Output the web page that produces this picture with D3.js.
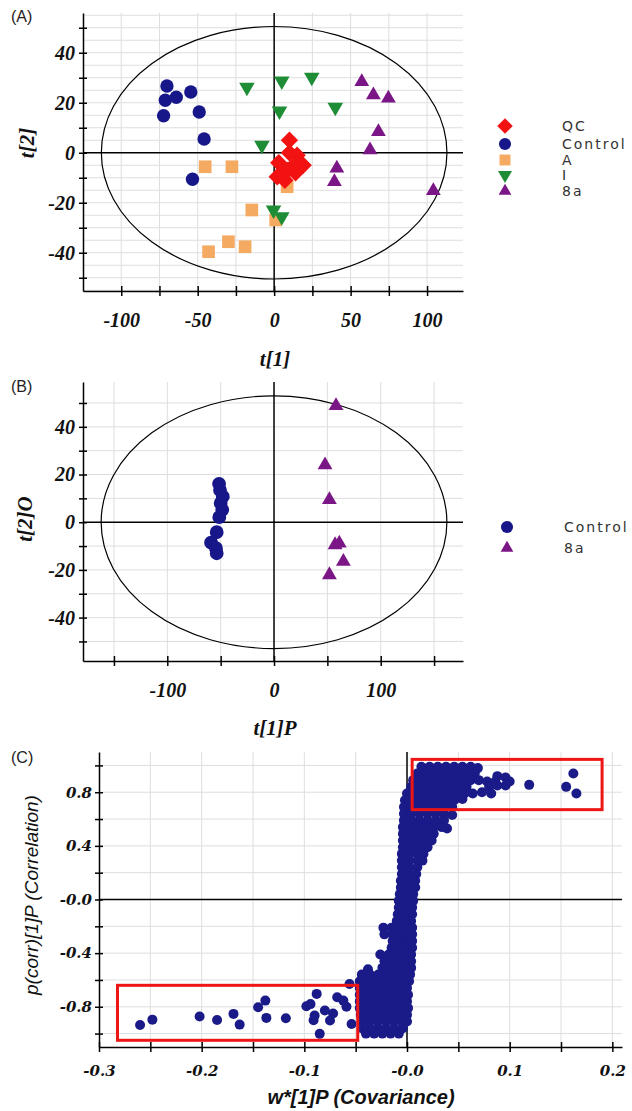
<!DOCTYPE html>
<html>
<head>
<meta charset="utf-8">
<script src="https://cdn.jsdelivr.net/npm/d3@7.9.0/dist/d3.min.js"></script>
<style>
  body { margin: 0; background: #fff; }
  svg { display: block; }
</style>
</head>
<body>
<svg id="chart" width="632" height="1111"></svg>
<script>
// (A) PCA scores, [t1, t2]
const qcScores = [[10,5],[3,-4],[10,0],[15,-1],[19,-5],[13,-5],[9,-7],[2,-9.6],[5,-8],[7,-11],[14,-8]];
const controlScores = [[-70.1,26.7],[-71.2,21],[-64,22.2],[-54.5,24.3],[-72.3,14.8],[-49,16.3],[-45.8,5.5],[-53.4,-10.6]];
const aScores = [[-45.1,-5.6],[-27.6,-5.6],[8.5,-13.6],[-14.6,-22.9],[-42.9,-39.6],[-29.9,-35.6],[-19,-37.6],[1,-26.9]];
const iScores = [[-17.8,26.2],[5,28.7],[24.6,30.2],[3.5,16.7],[-8,3],[40,18.2],[-0.4,-22.9],[5,-25.6]];
const s8aScores = [[57.3,28.4],[64.9,23.1],[74.7,21.8],[68.2,8.4],[62.7,1.1],[41,-6.2],[39.4,-11.6],[104.1,-15.2]];

// (B) OPLS-DA scores, [t1P, t2O]
const controlOpls = [[-51.5,16.1],[-50.6,13.5],[-48,10.7],[-50,8],[-48.5,5.2],[-51.3,2.1],[-53.7,-4.2],[-59,-8.6],[-54.4,-10.9],[-53.7,-13]];
const s8aOpls = [[58.1,48.8],[47.8,24],[51.9,9.4],[57.2,-9.5],[61.2,-8.8],[65,-16.5],[51.9,-22.1]];

// (C) S-plot, [w*[1]P, p(corr)[1]P]
const loadingsTop = [
  [0.014,0.99],[0.022,0.99],[0.030,0.99],[0.038,0.99],[0.046,0.99],[0.054,0.99],[0.062,0.99],[0.069,0.98],
  [0.010,0.94],[0.018,0.94],[0.026,0.94],[0.034,0.94],[0.042,0.94],[0.050,0.94],[0.058,0.94],[0.066,0.94],[0.088,0.92],[0.096,0.91],
  [0.006,0.89],[0.014,0.89],[0.022,0.89],[0.030,0.89],[0.038,0.89],[0.046,0.89],[0.054,0.89],[0.062,0.89],[0.070,0.89],[0.078,0.88],[0.086,0.88],[0.100,0.88],
  [0.004,0.84],[0.010,0.84],[0.018,0.84],[0.026,0.84],[0.034,0.84],[0.042,0.84],[0.050,0.84],[0.058,0.84],[0.080,0.84],[0.088,0.85],[0.096,0.85],
  [0.000,0.79],[0.008,0.79],[0.016,0.79],[0.024,0.79],[0.032,0.79],[0.040,0.79],[0.048,0.79],[0.056,0.79],[0.064,0.79],[0.073,0.80],[0.082,0.79],
  [-0.002,0.74],[0.006,0.74],[0.014,0.74],[0.022,0.74],[0.030,0.74],[0.038,0.74],[0.046,0.74],[0.054,0.75],
  [0.119,0.855],[0.162,0.94],[0.155,0.84],[0.165,0.79]
];
const loadingsColumn = [
  [-0.003,0.69],[0.004,0.69],[0.012,0.69],[0.020,0.69],[0.028,0.69],[0.036,0.69],[0.044,0.69],
  [-0.003,0.64],[0.004,0.64],[0.012,0.64],[0.020,0.64],[0.028,0.64],[0.036,0.64],[0.044,0.63],
  [-0.003,0.59],[0.004,0.59],[0.012,0.59],[0.020,0.59],[0.028,0.59],[0.036,0.59],
  [-0.004,0.54],[0.002,0.54],[0.010,0.54],[0.018,0.54],[0.026,0.54],[0.034,0.54],[0.039,0.53],
  [-0.004,0.49],[0.004,0.49],[0.012,0.49],[0.020,0.49],[0.026,0.49],
  [-0.004,0.44],[0.002,0.44],[0.010,0.44],[0.018,0.44],[0.024,0.44],
  [-0.004,0.39],[0.004,0.39],[0.012,0.39],[0.020,0.39],
  [-0.005,0.34],[0.002,0.34],[0.010,0.34],[0.016,0.34],
  [-0.005,0.29],[0.002,0.29],[0.010,0.29],[0.015,0.29],
  [-0.005,0.24],[0.002,0.24],[0.010,0.24],
  [-0.005,0.19],[0.002,0.19],[0.009,0.19],
  [-0.006,0.14],[0.001,0.14],[0.008,0.14],
  [-0.006,0.09],[0.001,0.09],[0.008,0.09],
  [-0.007,0.04],[0.000,0.04],[0.006,0.04],
  [-0.008,-0.01],[-0.001,-0.01],[0.006,-0.01],
  [-0.008,-0.06],[-0.001,-0.06],[0.005,-0.06],
  [-0.009,-0.11],[-0.002,-0.11],[0.005,-0.11],
  [-0.010,-0.16],[-0.003,-0.16],[0.004,-0.16],
  [-0.023,-0.21],[-0.015,-0.21],[-0.008,-0.21],[-0.001,-0.21],[0.005,-0.21],
  [-0.022,-0.26],[-0.014,-0.26],[-0.007,-0.26],[0.000,-0.26],[0.005,-0.26],
  [-0.014,-0.31],[-0.007,-0.31],[0.000,-0.31],[0.005,-0.31],
  [-0.015,-0.36],[-0.008,-0.36],[-0.001,-0.36],[0.005,-0.36],
  [-0.026,-0.41],[-0.018,-0.41],[-0.010,-0.41],[-0.003,-0.41],[0.004,-0.41],
  [-0.022,-0.46],[-0.014,-0.46],[-0.007,-0.46],[0.000,-0.46],[0.004,-0.46],
  [-0.038,-0.52],[-0.024,-0.51],[-0.016,-0.51],[-0.008,-0.51],[-0.001,-0.51],[0.004,-0.51],
  [-0.044,-0.56],[-0.036,-0.56],[-0.028,-0.56],[-0.020,-0.56],[-0.012,-0.56],[-0.004,-0.56],[0.003,-0.56],
  [-0.046,-0.61],[-0.038,-0.61],[-0.030,-0.61],[-0.022,-0.61],[-0.014,-0.61],[-0.006,-0.61],[0.002,-0.61],
  [-0.046,-0.66],[-0.040,-0.66],[-0.032,-0.66],[-0.024,-0.66],[-0.016,-0.66],[-0.008,-0.66],[0.000,-0.66],
  [-0.046,-0.71],[-0.038,-0.71],[-0.030,-0.71],[-0.022,-0.71],[-0.014,-0.71],[-0.006,-0.71],[0.001,-0.71],
  [-0.046,-0.76],[-0.040,-0.76],[-0.032,-0.76],[-0.024,-0.76],[-0.016,-0.76],[-0.008,-0.76],[0.000,-0.76],
  [-0.046,-0.81],[-0.038,-0.81],[-0.030,-0.81],[-0.022,-0.81],[-0.014,-0.81],[-0.006,-0.81],[0.001,-0.81],
  [-0.045,-0.86],[-0.040,-0.86],[-0.032,-0.86],[-0.024,-0.86],[-0.016,-0.86],[-0.008,-0.86],[0.000,-0.86],
  [-0.044,-0.91],[-0.037,-0.91],[-0.029,-0.91],[-0.021,-0.91],[-0.013,-0.91],[-0.005,-0.91],[0.000,-0.91],
  [-0.044,-0.96],[-0.036,-0.96],[-0.028,-0.96],[-0.020,-0.96],[-0.012,-0.96],[-0.004,-0.96],
  [-0.040,-1.00],[-0.032,-1.00],[-0.024,-1.00],[-0.016,-1.00],[-0.008,-1.00]
];
const loadingsLow = [
  [-0.260,-0.936],[-0.248,-0.896],[-0.202,-0.873],[-0.185,-0.898],[-0.169,-0.853],[-0.163,-0.933],
  [-0.145,-0.804],[-0.138,-0.754],[-0.137,-0.883],[-0.118,-0.886],[-0.098,-0.796],[-0.094,-0.78],
  [-0.088,-0.704],[-0.091,-0.90],[-0.090,-0.866],[-0.085,-1.002],[-0.080,-0.828],[-0.075,-0.903],
  [-0.072,-0.85],[-0.068,-0.729],[-0.062,-0.754],[-0.059,-0.80],[-0.056,-0.63],[-0.054,-0.928]
];
// highlighted regions [xmin, xmax, ymin, ymax]
const boxes = [[0.005, 0.19, 0.67, 1.045], [-0.282, -0.048, -1.05, -0.64]];

// ticks
const aXTicks = [-100,-75,-50,-25,0,25,50,75,100];
const aXLabels = [-100,-50,0,50,100];
const aYTicks = [-50,-40,-30,-20,-10,0,10,20,30,40,50];
const aYLabels = [-40,-20,0,20,40];
const aYGrid = [-55,-50,-45,-40,-35,-30,-25,-20,-15,-10,-5,5,10,15,20,25,30,35,40,45,50,55];
const bXTicks = [-150,-100,-50,0,50,100,150];
const bXLabels = [-100,0,100];
const bYTicks = [-50,-40,-30,-20,-10,0,10,20,30,40,50];
const bYLabels = [-40,-20,0,20,40];
const cXTicks = [-0.3,-0.25,-0.2,-0.15,-0.1,-0.05,0,0.05,0.1,0.15,0.2];
const cXLabels = [-0.3,-0.2,-0.1,0,0.1,0.2];
const cYTicks = [-1.0,-0.8,-0.6,-0.4,-0.2,0,0.2,0.4,0.6,0.8,1.0];
const cYLabels = [-0.8,-0.4,0,0.4,0.8];

const colors = { QC: '#f21212', Control: '#17178a', A: '#f5aa62', I: '#1f8c36', '8a': '#7a1686' };

const svg = d3.select('#chart');
const gridColor = '#dedede';
const tickFont = 'bold italic 20px "Liberation Serif", serif';
const scoreTitleFont = 'bold italic 21px "Liberation Serif", serif';

function symbolPath(kind, size) {
  if (kind === 'diamond' || kind === 'square') return d3.symbol(d3.symbolSquare, size)();
  if (kind === 'circle') return d3.symbol(d3.symbolCircle, size)();
  return d3.symbol(d3.symbolTriangle, size)();
}
function symbolRotate(kind) {
  if (kind === 'diamond') return ' rotate(45)';
  if (kind === 'down') return ' rotate(180)';
  return '';
}

function drawFrame(g, x, y, cfg) {
  const [x0, x1] = x.range();
  const [y0, y1] = y.range();

  g.selectAll(null).data(cfg.xGrid).join('line')
    .attr('x1', d => x(d)).attr('x2', d => x(d))
    .attr('y1', y1).attr('y2', y0)
    .attr('stroke', gridColor);
  g.selectAll(null).data(cfg.yGrid).join('line')
    .attr('x1', x0).attr('x2', x1)
    .attr('y1', d => y(d)).attr('y2', d => y(d))
    .attr('stroke', gridColor);

  // zero lines
  g.append('line').attr('x1', x0).attr('x2', x1).attr('y1', y(0)).attr('y2', y(0))
    .attr('stroke', '#000').attr('stroke-width', 1.5);
  g.append('line').attr('x1', x(0)).attr('x2', x(0)).attr('y1', y1).attr('y2', y0)
    .attr('stroke', '#000').attr('stroke-width', 1.5);

  const xAxis = g.append('g').attr('transform', `translate(0,${y0})`)
    .call(d3.axisBottom(x).tickValues(cfg.xTicks).tickSize(5).tickSizeOuter(0)
      .tickPadding(cfg.xPad).tickFormat(d => cfg.xLabels.includes(d) ? cfg.fmt(d) : ''));
  xAxis.selectAll('.tick line').attr('y1', -5);

  const yAxis = g.append('g').attr('transform', `translate(${x0},0)`)
    .call(d3.axisLeft(y).tickValues(cfg.yTicks).tickSize(4).tickSizeOuter(0)
      .tickPadding(cfg.yPad).tickFormat(d => cfg.yLabels.includes(d) ? cfg.fmt(d) : ''));
  yAxis.selectAll('.tick line').attr('x1', 4);

  [xAxis, yAxis].forEach(ax => {
    ax.select('.domain').attr('stroke', '#000').attr('stroke-width', 1.5);
    ax.selectAll('.tick line').attr('stroke', '#000').attr('stroke-width', 1.5);
    ax.selectAll('text').style('font', cfg.font).attr('fill', '#111');
  });
}

function drawMarkers(g, x, y, data, kind, size, color) {
  g.selectAll(null).data(data).join('path')
    .attr('d', symbolPath(kind, size))
    .attr('transform', d => `translate(${x(d[0])},${y(d[1])})` + symbolRotate(kind))
    .attr('fill', color);
}

function drawLegend(items, x0, ys) {
  const lg = svg.append('g');
  items.forEach((it, i) => {
    lg.append('path')
      .attr('d', symbolPath(it.kind, it.size))
      .attr('transform', `translate(${x0},${ys[i]})` + symbolRotate(it.kind))
      .attr('fill', colors[it.name]);
    lg.append('text')
      .attr('x', x0 + 57).attr('y', ys[i])
      .attr('dominant-baseline', 'central')
      .style('font', '14px "DejaVu Sans", sans-serif')
      .style('letter-spacing', '2px')
      .attr('fill', '#333')
      .text(it.name);
  });
}

function panelLabel(text, x, y) {
  svg.append('text').attr('x', x).attr('y', y)
    .style('font', '16px "Liberation Sans", Arial, sans-serif')
    .attr('fill', '#222').text(text);
}

function title(text, x, y, font, rotate) {
  svg.append('text')
    .attr('transform', `translate(${x},${y})` + (rotate ? ' rotate(-90)' : ''))
    .attr('text-anchor', 'middle').attr('dominant-baseline', 'central')
    .style('font', font).attr('fill', '#111').text(text);
}

const intFmt = d => String(d);

// ---------- Panel A ----------
const xA = d3.scaleLinear().domain([-125, 123.5]).range([83, 463]);
const yA = d3.scaleLinear().domain([-55.3, 55.9]).range([291, 13]);
const gA = svg.append('g');
drawFrame(gA, xA, yA, {
  xGrid: [-100,-75,-50,-25,25,50,75,100], yGrid: aYGrid,
  xTicks: aXTicks, xLabels: aXLabels, yTicks: aYTicks, yLabels: aYLabels,
  xPad: 17, yPad: 4, fmt: intFmt, font: tickFont
});
gA.append('ellipse')
  .attr('cx', xA(0)).attr('cy', yA(0))
  .attr('rx', xA(113) - xA(0)).attr('ry', yA(0) - yA(50.5))
  .attr('fill', 'none').attr('stroke', '#000').attr('stroke-width', 1.2);
drawMarkers(gA, xA, yA, aScores, 'square', 160, colors.A);
drawMarkers(gA, xA, yA, controlScores, 'circle', 140, colors.Control);
drawMarkers(gA, xA, yA, iScores, 'down', 105, colors.I);
drawMarkers(gA, xA, yA, s8aScores, 'triangle', 95, colors['8a']);
drawMarkers(gA, xA, yA, qcScores, 'diamond', 150, colors.QC);
drawLegend([
  { name: 'QC', kind: 'diamond', size: 120 },
  { name: 'Control', kind: 'circle', size: 115 },
  { name: 'A', kind: 'square', size: 120 },
  { name: 'I', kind: 'down', size: 85 },
  { name: '8a', kind: 'triangle', size: 70 }
], 505, [126, 144, 160, 175, 191]);
panelLabel('(A)', 11, 22);
title('t[2]', 27, 143, scoreTitleFont, true);
title('t[1]', 275, 359, scoreTitleFont, false);

// ---------- Panel B ----------
const xB = d3.scaleLinear().domain([-179, 177.1]).range([83, 463]);
const yB = d3.scaleLinear().domain([-58.2, 58.8]).range([661, 382]);
const gB = svg.append('g');
drawFrame(gB, xB, yB, {
  xGrid: [-150,-100,-50,50,100,150], yGrid: [-50,-40,-30,-20,-10,10,20,30,40,50],
  xTicks: bXTicks, xLabels: bXLabels, yTicks: bYTicks, yLabels: bYLabels,
  xPad: 17, yPad: 4, fmt: intFmt, font: tickFont
});
gB.append('ellipse')
  .attr('cx', xB(0)).attr('cy', yB(0))
  .attr('rx', xB(162) - xB(0)).attr('ry', yB(0) - yB(53))
  .attr('fill', 'none').attr('stroke', '#000').attr('stroke-width', 1.2);
drawMarkers(gB, xB, yB, controlOpls, 'circle', 150, colors.Control);
drawMarkers(gB, xB, yB, s8aOpls, 'triangle', 95, colors['8a']);
drawLegend([
  { name: 'Control', kind: 'circle', size: 115 },
  { name: '8a', kind: 'triangle', size: 70 }
], 507, [527, 548]);
panelLabel('(B)', 11, 392);
title('t[2]O', 25, 519, scoreTitleFont, true);
title('t[1]P', 275, 728, scoreTitleFont, false);

// ---------- Panel C ----------
const xC = d3.scaleLinear().domain([-0.3, 0.2094]).range([99, 622]);
const yC = d3.scaleLinear().domain([-1.1, 1.1]).range([1047, 752]);
const gC = svg.append('g');
const decFmt = d => (d === 0 ? '-0.0' : d3.format('.1f')(d).replace('−', '-'));
drawFrame(gC, xC, yC, {
  xGrid: [-0.25,-0.2,-0.15,-0.1,-0.05,0.05,0.1,0.15,0.2], yGrid: [-1.0,-0.8,-0.6,-0.4,-0.2,0.2,0.4,0.6,0.8,1.0],
  xTicks: cXTicks, xLabels: cXLabels, yTicks: cYTicks, yLabels: cYLabels,
  xPad: 13, yPad: 3, fmt: decFmt, font: 'bold italic 15px "DejaVu Serif", serif'
});
gC.selectAll(null).data(loadingsTop.concat(loadingsColumn, loadingsLow)).join('circle')
  .attr('cx', d => xC(d[0])).attr('cy', d => yC(d[1]))
  .attr('r', 5).attr('fill', '#1a1a88');
gC.selectAll(null).data(boxes).join('rect')
  .attr('x', d => xC(d[0])).attr('width', d => xC(d[1]) - xC(d[0]))
  .attr('y', d => yC(d[3])).attr('height', d => yC(d[2]) - yC(d[3]))
  .attr('fill', 'none').attr('stroke', '#ee1515').attr('stroke-width', 3);
panelLabel('(C)', 11, 763);
title('p(corr)[1]P (Correlation)', 31, 895, 'italic 19px "Liberation Sans", Arial, sans-serif', true);
title('w*[1]P (Covariance)', 361, 1097, 'bold italic 20px "Liberation Sans", Arial, sans-serif', false);
</script>
</body>
</html>
